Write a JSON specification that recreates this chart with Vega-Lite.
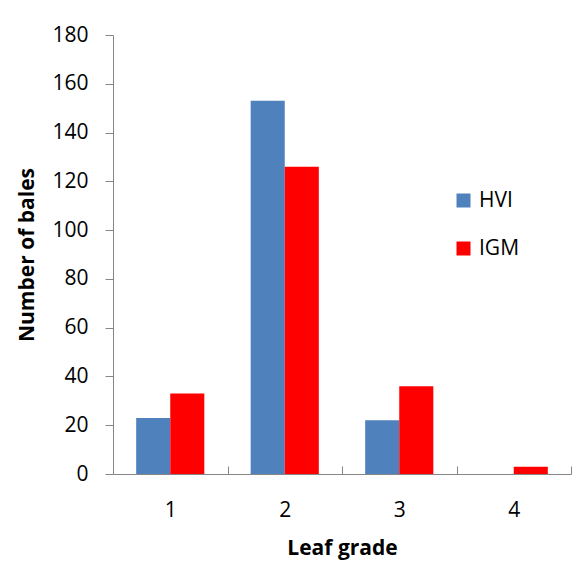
{
  "$schema": "https://vega.github.io/schema/vega-lite/v6.json",
  "autosize": {"type": "none"},
  "width": 458,
  "height": 439,
  "padding": {"left": 113, "top": 35, "right": 6, "bottom": 93},
  "background": "white",
  "config": {
    "view": {"stroke": null},
    "font": "Open Sans",
    "axis": {"labelFont": "Open Sans", "titleFont": "Open Sans", "labelColor": "#000", "titleColor": "#000"}
  },
  "data": {
    "values": [
      {"grade": "1", "method": "HVI", "bales": 23},
      {"grade": "1", "method": "IGM", "bales": 33},
      {"grade": "2", "method": "HVI", "bales": 153},
      {"grade": "2", "method": "IGM", "bales": 126},
      {"grade": "3", "method": "HVI", "bales": 22},
      {"grade": "3", "method": "IGM", "bales": 36},
      {"grade": "4", "method": "HVI", "bales": 0},
      {"grade": "4", "method": "IGM", "bales": 3}
    ]
  },
  "mark": {"type": "bar"},
  "encoding": {
    "x": {
      "field": "grade",
      "type": "nominal",
      "scale": {"paddingInner": 0, "paddingOuter": 0},
      "axis": {
        "title": "Leaf grade",
        "titleFontSize": 21,
        "titleFontWeight": "bold",
        "titlePadding": 17,
        "labelAngle": 0,
        "labelFontSize": 21,
        "labelPadding": 33,
        "tickSize": -8,
        "tickBand": "extent",
        "domainColor": "#868686",
        "tickColor": "#868686",
        "grid": false
      }
    },
    "xOffset": {
      "field": "method",
      "type": "nominal",
      "scale": {"paddingInner": 0, "paddingOuter": 0.68}
    },
    "y": {
      "field": "bales",
      "type": "quantitative",
      "scale": {"domain": [0, 180], "nice": false},
      "axis": {
        "title": "Number of bales",
        "titleFontSize": 21,
        "titleFontWeight": "bold",
        "titlePadding": 14,
        "values": [0, 20, 40, 60, 80, 100, 120, 140, 160, 180],
        "labelFontSize": 21,
        "labelPadding": 17,
        "tickSize": 8,
        "domainColor": "#868686",
        "tickColor": "#868686",
        "grid": false
      }
    },
    "color": {
      "field": "method",
      "type": "nominal",
      "scale": {"domain": ["HVI", "IGM"], "range": ["#4F81BD", "#FF0000"]},
      "legend": {
        "title": null,
        "orient": "none",
        "legendX": 340,
        "legendY": 155,
        "symbolType": "square",
        "symbolSize": 196,
        "symbolStrokeWidth": 0,
        "labelFontSize": 21,
        "labelFont": "Open Sans",
        "labelColor": "#000",
        "rowPadding": 26,
        "labelOffset": 5
      }
    }
  }
}
